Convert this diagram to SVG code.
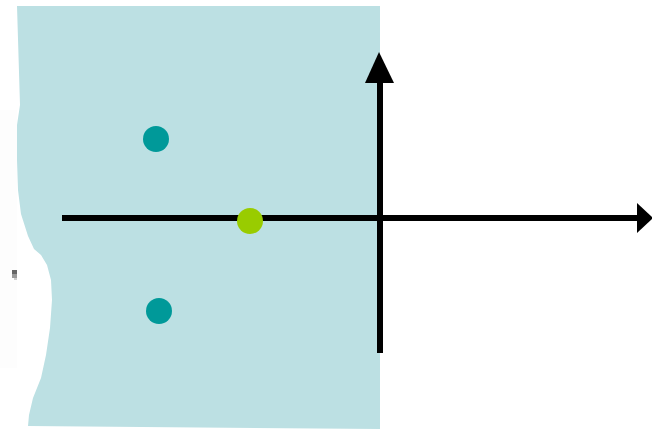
<svg xmlns="http://www.w3.org/2000/svg" width="652" height="429" viewBox="0 0 652 429">
<style>
.axis{stroke:#000;stroke-width:6;fill:none}
.head{fill:#000}
.pole{fill:#009999}
.zero{fill:#99cc00}
</style>
<rect width="652" height="429" fill="#fff"/>
<rect x="0" y="110" width="17" height="258" fill="#fdfdfd"/>
<g id="region">
<path d="M17,6 L380,6 L380,429 L28,426 L29,415 L33,398 L41,378 L46,355 L50,328 L52,300 L51,280 L47,265 L41,255 L34,249 L28,236 L21,214 L18,190 L17,160 L17,125 L20,105 Z" fill="#bce0e3"/>
</g>
<g id="artifact">
<rect x="12" y="270" width="5" height="4" fill="#666"/>
<rect x="12" y="274" width="5" height="4" fill="#999"/>
<rect x="14" y="278" width="3" height="2" fill="#ccc"/>
</g>
<g id="connectors">
<line class="axis" x1="62" y1="218" x2="640" y2="218"/>
<polygon class="head" points="637,203 653,218 637,233"/>
<line class="axis" x1="380" y1="353" x2="380" y2="80"/>
<polygon class="head" points="365,83 379,52 394,83"/>
</g>
<g id="pole1"><circle class="pole" cx="156" cy="139" r="13"/></g>
<g id="pole2"><circle class="pole" cx="159" cy="311" r="13"/></g>
<g id="zero1"><circle class="zero" cx="250" cy="221" r="13"/></g>
</svg>
